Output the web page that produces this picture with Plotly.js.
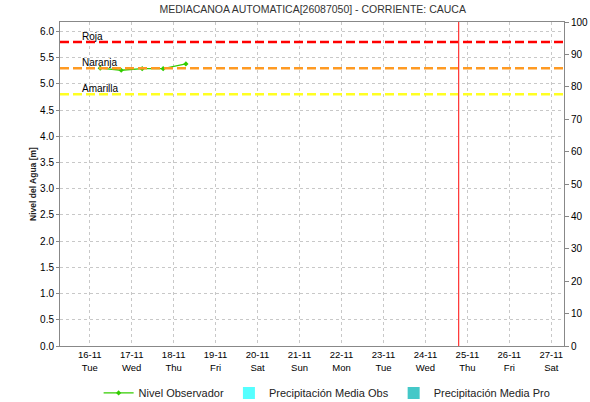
<!DOCTYPE html>
<html><head><meta charset="utf-8">
<script src="https://cdn.plot.ly/plotly-3.0.1.min.js"></script>
<style>body{margin:0;background:#fff}#c{width:590px;height:402px}</style>
</head><body><div id="c"></div>
<script>
// Observed water level
var obsTimes = ['2021-11-16 06:00','2021-11-16 18:00','2021-11-17 06:00','2021-11-17 18:00','2021-11-18 07:00'];
var obsLevels = [5.30, 5.26, 5.29, 5.29, 5.38];
// Alert thresholds
var thresholdNames = ['Roja','Naranja','Amarilla'];
var thresholdValues = [5.8, 5.3, 4.8];
var thresholdColors = ['#ff0000','#ff9a22','#ffff22'];
// Axis ticks
var tickDates = ['2021-11-16','2021-11-17','2021-11-18','2021-11-19','2021-11-20','2021-11-21','2021-11-22','2021-11-23','2021-11-24','2021-11-25','2021-11-26','2021-11-27'];
var tickLabels = ['16-11<br>Tue','17-11<br>Wed','18-11<br>Thu','19-11<br>Fri','20-11<br>Sat','21-11<br>Sun','22-11<br>Mon','23-11<br>Tue','24-11<br>Wed','25-11<br>Thu','26-11<br>Fri','27-11<br>Sat'];
var xRange = ['2021-11-15 07:00','2021-11-27 07:15'];
var nowTime = '2021-11-24 19:00';
var leftRange = [0, 6.18];
var rightRange = [0, 100];

var traces = [
  {type:'scatter', mode:'lines+markers', name:'Nivel Observador', x:obsTimes, y:obsLevels,
   line:{color:'#33cc00', width:1.3}, marker:{color:'#33cc00', size:4, symbol:'diamond'}},
  {type:'bar', name:'Precipitación Media Obs', x:[null], y:[null], yaxis:'y2', marker:{color:'#55ffff'}},
  {type:'bar', name:'Precipitación Media Pro', x:[null], y:[null], yaxis:'y2', marker:{color:'#44c8c8'}}
];

var shapes = thresholdValues.map(function(v,i){
  return {type:'line', xref:'paper', x0:0, x1:1, yref:'y', y0:v, y1:v,
    line:{color:thresholdColors[i], width:2.5, dash:'9px,4px'}};
});
shapes.push({type:'line', xref:'x', x0:nowTime, x1:nowTime, yref:'paper', y0:0, y1:1,
  line:{color:'#ff3333', width:1.2}});

var annotations = thresholdValues.map(function(v,i){
  return {xref:'paper', x:0.04, xanchor:'left', yref:'y', y:v, yanchor:'bottom', yshift:-2,
    text:thresholdNames[i], showarrow:false, font:{size:10, color:'#000'}};
});

var fontFam = 'Liberation Sans, Arial, sans-serif';
var layout = {
  width:590, height:402,
  margin:{l:59.5, r:26, t:22, b:55.5, autoexpand:false},
  paper_bgcolor:'#fff', plot_bgcolor:'#fff',
  font:{family:fontFam, size:10, color:'#000'},
  title:{text:'MEDIACANOA AUTOMATICA[26087050] - CORRIENTE: CAUCA', font:{size:10.5, color:'#333'}, x:0.53, xanchor:'center', y:0.985, yanchor:'top'},
  showlegend:true,
  legend:{orientation:'h', x:0.53, xanchor:'center', y:-0.1, yanchor:'top', font:{size:11, color:'#222'}, itemwidth:30, tracegroupgap:0},
  xaxis:{type:'date', range:xRange, tickmode:'array', tickvals:tickDates, ticktext:tickLabels,
    showgrid:true, gridcolor:'#c8c8c8', griddash:'dot', gridwidth:1,
    showline:true, linecolor:'#888', mirror:true, ticks:'', zeroline:false, tickfont:{size:9.5}, fixedrange:true},
  yaxis:{range:leftRange, dtick:0.5, tickformat:'.1f', showgrid:true, gridcolor:'#c8c8c8', griddash:'dot',
    showline:true, linecolor:'#888', ticks:'outside', ticklen:3, tickcolor:'#888', zeroline:false,
    title:{text:'<b>Nivel del Agua [m]</b>', font:{size:8.5, color:'#222'}, standoff:2}, tickfont:{size:10}},
  yaxis2:{range:rightRange, dtick:10, overlaying:'y', side:'right', showgrid:false,
    showline:true, linecolor:'#888', ticks:'outside', ticklen:4, tickcolor:'#888', zeroline:false, tickfont:{size:10}},
  shapes:shapes, annotations:annotations
};
Plotly.newPlot('c', traces, layout, {displayModeBar:false, staticPlot:true});
</script></body></html>
